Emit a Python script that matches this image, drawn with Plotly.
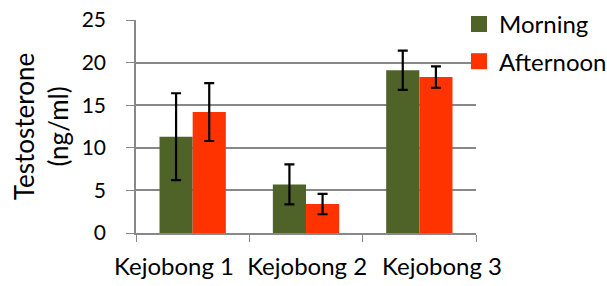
import plotly.graph_objects as go

categories = ["Kejobong 1", "Kejobong 2", "Kejobong 3"]
series_names = ["Morning", "Afternoon"]
morning = [11.3, 5.7, 19.1]
morning_err = [5.1, 2.35, 2.3]
afternoon = [14.2, 3.4, 18.3]
afternoon_err = [3.4, 1.2, 1.25]
y_ticks = [0, 5, 10, 15, 20, 25]
colors = ["#4F6228", "#FF3300"]
# small horizontal nudges of the category labels (as spread out in the reference)
label_nudge = [-0.165, 0.01, 0.20]

FONT = "Lato, 'Open Sans', sans-serif"
FS = 21

idx = list(range(len(categories)))
boundaries = [i - 0.5 for i in idx] + [idx[-1] + 0.5]
label_pos = [i + d for i, d in zip(idx, label_nudge)]

fig = go.Figure()
for name, vals, errs, col in zip(series_names, [morning, afternoon],
                                 [morning_err, afternoon_err], colors):
    fig.add_trace(go.Bar(
        x=idx, y=vals, name=name, showlegend=False,
        marker=dict(color=col, line=dict(width=0)),
        error_y=dict(type="data", array=errs, visible=True,
                     color="black", thickness=2.2, width=5),
    ))
for i, (name, col) in enumerate(zip(series_names, colors)):
    fig.add_trace(go.Scatter(
        x=[None], y=[None], mode="markers", name=name,
        marker=dict(symbol="square", size=16, color=col),
        legendgroup=f"g{i}", showlegend=True,
    ))

xr = [boundaries[0], boundaries[-1]]
fig.update_layout(
    width=607, height=286,
    margin=dict(l=136, r=131, t=19.5, b=52.5, autoexpand=False),
    paper_bgcolor="white", plot_bgcolor="white",
    barmode="group", bargap=0.415, bargroupgap=0,
    font=dict(family=FONT, size=FS, color="#000000"),
    showlegend=True,
    legend=dict(x=0.95, y=1.085, xanchor="left", yanchor="top",
                font=dict(size=24), traceorder="grouped",
                tracegroupgap=3, itemwidth=30, itemsizing="trace",
                bgcolor="rgba(0,0,0,0)"),
    xaxis=dict(range=xr, tickvals=boundaries, showticklabels=False,
               ticks="outside", ticklen=7, tickcolor="#888888",
               showline=True, linecolor="#888888", linewidth=1.5,
               showgrid=False, zeroline=False),
    xaxis2=dict(range=xr, overlaying="x", side="bottom", anchor="y",
                tickvals=label_pos, ticktext=categories, ticks="",
                showline=False, showgrid=False, zeroline=False,
                tickfont=dict(size=24), ticklabelstandoff=17, tickangle=0),
    yaxis=dict(range=[0, 25], tickvals=y_ticks, ticks="outside",
               ticklen=8, tickcolor="#888888", showline=True,
               linecolor="#888888", linewidth=1.5, showgrid=True,
               gridcolor="#888888", gridwidth=1.5, zeroline=False,
               tickfont=dict(size=FS), ticklabelstandoff=16,
               title=dict(text="Testosterone<br>(ng/ml)", font=dict(size=26),
                          standoff=6)),
)
# invisible carrier trace so the label axis is drawn
fig.add_trace(go.Scatter(x=[None], y=[None], xaxis="x2", yaxis="y",
                         showlegend=False, hoverinfo="skip"))

fig.write_html("out.html", config={"displayModeBar": False},
               post_script="document.body.style.margin='0';")
